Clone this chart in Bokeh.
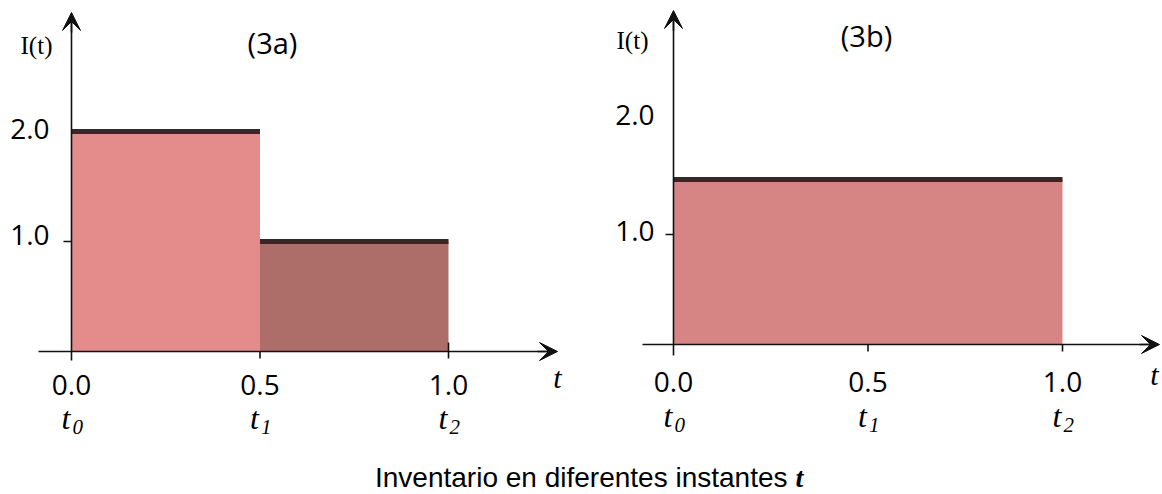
from bokeh.plotting import figure
from bokeh.models import Arrow, VeeHead, Range1d
from bokeh.layouts import column, row
from bokeh.core.properties import value
from bokeh.embed import file_html
from bokeh.resources import INLINE

# ---------------- data ----------------
a_start = [0.0, 0.5]
a_end = [0.5, 1.0]
a_level = [2.0, 1.0]
a_colors = ["#E38C8B", "#AD6E6A"]

b_start = [0.0]
b_end = [1.0]
b_level = [1.5]
b_colors = ["#D78484"]

x_ticks = [0.0, 0.5, 1.0]
x_tick_labels = ["0.0", "0.5", "1.0"]
t_subs = ["0", "1", "2"]
y_ticks = [1.0, 2.0]
y_tick_labels = ["1.0", "2.0"]
y_tick_marks = [1.0]
titles = ["(3a)", "(3b)"]
y_label = "I(t)"
x_label = "t"
caption = "Inventario en diferentes instantes"

SANS = value("Open Sans")
SERIF = value("Liberation Serif")
AXIS_COLOR = "#111111"
STEP_LINE = "#3B2527"


def panel(cfg, starts, ends, levels, colors, title):
    W, H = cfg["W"], cfg["H"]
    x0, y0, sx, sy = cfg["x0"], cfg["y0"], cfg["sx"], cfg["sy"]

    def X(px):
        return (px - x0) / sx

    def Y(py):
        return (y0 - py) / sy

    p = figure(width=W, height=H, output_backend="svg", toolbar_location=None,
               x_range=Range1d(X(0), X(W)), y_range=Range1d(Y(H), Y(0)),
               min_border=0, min_border_left=0, min_border_right=0,
               min_border_top=0, min_border_bottom=0)
    p.axis.visible = False
    p.grid.visible = False
    p.outline_line_color = None
    p.background_fill_color = "white"
    p.border_fill_color = "white"

    # filled steps
    p.quad(left=starts, right=ends, bottom=[0.0] * len(levels), top=levels,
           fill_color=colors, line_color=None)
    # step top lines
    p.segment(x0=starts, x1=ends, y0=levels, y1=levels,
              line_color=STEP_LINE, line_width=5, line_cap="butt")

    # axes with arrows
    p.segment(x0=[0.0], x1=[0.0], y0=[Y(cfg["ybot"])], y1=[Y(cfg["ytip"] + 10)],
              line_color=AXIS_COLOR, line_width=1.6)
    p.add_layout(Arrow(end=VeeHead(size=18, line_color=AXIS_COLOR, fill_color=AXIS_COLOR),
                       x_start=0.0, y_start=Y(cfg["ytip"] + 20), x_end=0.0, y_end=Y(cfg["ytip"]),
                       line_color=AXIS_COLOR, line_width=1.6))
    p.segment(x0=[X(cfg["xleft"])], x1=[X(cfg["xtip"] - 10)], y0=[0.0], y1=[0.0],
              line_color=AXIS_COLOR, line_width=1.6)
    p.add_layout(Arrow(end=VeeHead(size=18, line_color=AXIS_COLOR, fill_color=AXIS_COLOR),
                       x_start=X(cfg["xtip"] - 20), y_start=0.0, x_end=X(cfg["xtip"]), y_end=0.0,
                       line_color=AXIS_COLOR, line_width=1.6))

    # x tick marks
    xt = x_ticks[1:]
    ups = cfg["tick_up"]
    p.segment(x0=xt, x1=xt, y0=[u / sy for u in ups], y1=[-7 / sy] * len(xt),
              line_color=AXIS_COLOR, line_width=1.6)
    # y tick marks
    p.segment(x0=[-8 / sx] * len(y_tick_marks), x1=[0.0] * len(y_tick_marks),
              y0=y_tick_marks, y1=y_tick_marks, line_color=AXIS_COLOR, line_width=1.4)

    # y tick labels
    p.text(x=[X(cfg["ylab_right"])] * len(y_ticks),
           y=[v + d / sy for v, d in zip(y_ticks, cfg["ylab_dy"])],
           text=y_tick_labels, text_font=SANS, text_font_size="28px",
           text_align="right", text_baseline="middle", text_color="#000000")
    # x tick labels
    p.text(x=x_ticks, y=[Y(cfg["xlab_y"])] * len(x_ticks), text=x_tick_labels,
           text_font=SANS, text_font_size="28px", text_align="center",
           text_baseline="middle", text_color="#000000")
    # t_i labels
    p.text(x=[v - 1 / sx for v in x_ticks], y=[Y(cfg["tlab_y"])] * len(x_ticks),
           text=["t"] * len(x_ticks), text_font=SERIF, text_font_size="32px",
           text_font_style="italic", text_align="right", text_baseline="middle",
           text_color="#000000")
    p.text(x=[v + 1 / sx for v in x_ticks], y=[Y(cfg["tlab_y"] + 9)] * len(x_ticks),
           text=t_subs, text_font=SERIF, text_font_size="21px",
           text_font_style="italic", text_align="left", text_baseline="middle",
           text_color="#000000")
    # axis labels
    p.text(x=[X(cfg["ylabel_xy"][0])], y=[Y(cfg["ylabel_xy"][1])], text=[y_label],
           text_font=SERIF, text_font_size="25px", text_align="center",
           text_baseline="middle", text_color="#000000")
    p.text(x=[X(cfg["xlabel_xy"][0])], y=[Y(cfg["xlabel_xy"][1])], text=[x_label],
           text_font=SERIF, text_font_size="30px", text_font_style="italic",
           text_align="center", text_baseline="middle", text_color="#000000")
    # title
    p.text(x=[X(cfg["title_xy"][0])], y=[Y(cfg["title_xy"][1])], text=[title],
           text_font=SANS, text_font_size="29px", text_align="center",
           text_baseline="middle", text_color="#000000")
    return p


left_cfg = dict(W=583, H=450, x0=71, y0=351, sx=377, sy=110,
                ybot=360, ytip=12, xleft=38, xtip=557,
                tick_up=[0, 9], ylab_right=49, ylab_dy=[7, 3], xlab_y=384, tlab_y=417,
                ylabel_xy=(36, 45), xlabel_xy=(557, 377), title_xy=(272, 42))
right_cfg = dict(W=579, H=450, x0=90, y0=344, sx=389, sy=110,
                 ybot=355, ytip=10, xleft=59, xtip=576,
                 tick_up=[0, 0], ylab_right=71, ylab_dy=[4, 10], xlab_y=381, tlab_y=415,
                 ylabel_xy=(49, 40), xlabel_xy=(571, 374), title_xy=(283, 35))

pL = panel(left_cfg, a_start, a_end, a_level, a_colors, titles[0])
pR = panel(right_cfg, b_start, b_end, b_level, b_colors, titles[1])

cap = figure(width=1162, height=44, output_backend="svg", toolbar_location=None,
             x_range=Range1d(0, 1162), y_range=Range1d(0, 44), min_border=0)
cap.axis.visible = False
cap.grid.visible = False
cap.outline_line_color = None
cap.text(x=[787], y=[17], text=[caption], text_font=value("Liberation Sans"),
         text_font_size="28px", text_align="right", text_baseline="middle",
         text_line_height=1.0, text_color="#000000")
cap.text(x=[795], y=[17], text=[x_label], text_font=SERIF, text_font_size="28px",
         text_font_style="bold italic", text_align="left", text_baseline="middle",
         text_line_height=1.0, text_color="#000000")

layout = column(row(pL, pR, spacing=0), cap, spacing=0)
open("out.html", "w").write(file_html(layout, INLINE))
